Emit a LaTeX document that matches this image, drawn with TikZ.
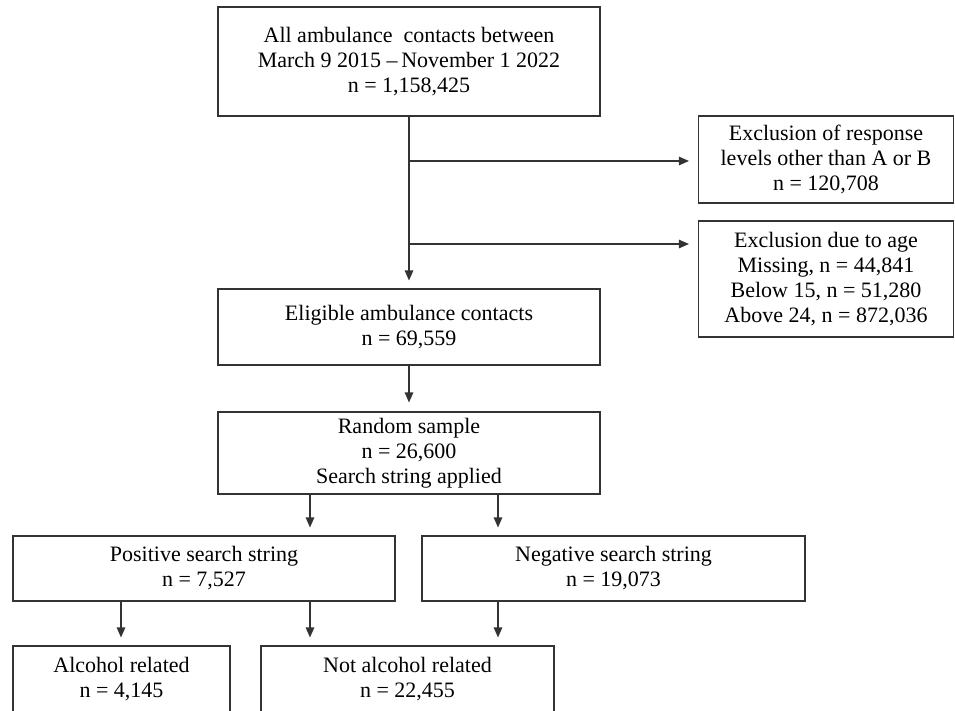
\documentclass[tikz,border=0pt]{standalone}
\usepackage{fontspec}
\setmainfont{Liberation Serif}
\usetikzlibrary{arrows.meta}
\begin{document}
\begin{tikzpicture}[x=1pt,y=-1pt,
  box/.style={draw=black!80, line width=1.1pt, align=center, inner sep=0pt,
    font=\fontsize{22}{25}\selectfont},
  arr/.style={draw=black!80, line width=1.1pt, -{Triangle[length=10pt,width=8.5pt]}}]
\useasboundingbox (0,0) rectangle (955,710);
\node[box, minimum width=382pt, minimum height=109pt] (b1) at (409,61.5)
  {All ambulance \ contacts between\\March 9 2015 –\,November 1 2022\\n = 1,158,425};
\node[box, minimum width=255pt, minimum height=87pt] (b2) at (826,159.5)
  {Exclusion of response\\levels other than A or B\\n = 120,708};
\node[box, minimum width=255pt, minimum height=116pt] (b3) at (826,279)
  {Exclusion due to age\\Missing, n = 44,841\\Below 15, n = 51,280\\Above 24, n = 872,036};
\node[box, minimum width=382pt, minimum height=76pt] (b4) at (409,327)
  {Eligible ambulance contacts\\n = 69,559};
\node[box, minimum width=382pt, minimum height=82pt] (b5) at (409,453)
  {Random sample\\n = 26,600\\Search string applied};
\node[box, minimum width=382pt, minimum height=65pt] (b6) at (204,568.5)
  {Positive search string\\n = 7,527};
\node[box, minimum width=383pt, minimum height=65pt] (b7) at (613.5,568.5)
  {Negative search string\\n = 19,073};
\node[box, minimum width=217pt, minimum height=66pt] (b8) at (121.5,679)
  {Alcohol related\\n = 4,145};
\node[box, minimum width=293pt, minimum height=66pt] (b9) at (407.5,679)
  {Not alcohol related\\n = 22,455};
% junctions
\coordinate (j1) at (409,161);
\coordinate (j2) at (409,244);
\coordinate (p1) at (310,494);
\coordinate (p2) at (498,494);
\coordinate (q1) at (121,601);
\coordinate (q2) at (310,601);
\coordinate (q3) at (498,601);
% connectors
\draw[arr, shorten >=8pt] (b1.south) -- (b4.north);
\draw[arr, shorten >=9pt] (j1) -- (j1 -| b2.west);
\draw[arr, shorten >=9pt] (j2) -- (j2 -| b3.west);
\draw[arr, shorten >=9pt] (b4.south) -- (b5.north);
\draw[arr, shorten >=8pt] (p1) -- (p1 |- b6.north);
\draw[arr, shorten >=8pt] (p2) -- (p2 |- b7.north);
\draw[arr, shorten >=8pt] (q1) -- (q1 |- b8.north);
\draw[arr, shorten >=8pt] (q2) -- (q2 |- b9.north);
\draw[arr, shorten >=8pt] (q3) -- (q3 |- b9.north);
\end{tikzpicture}
\end{document}
